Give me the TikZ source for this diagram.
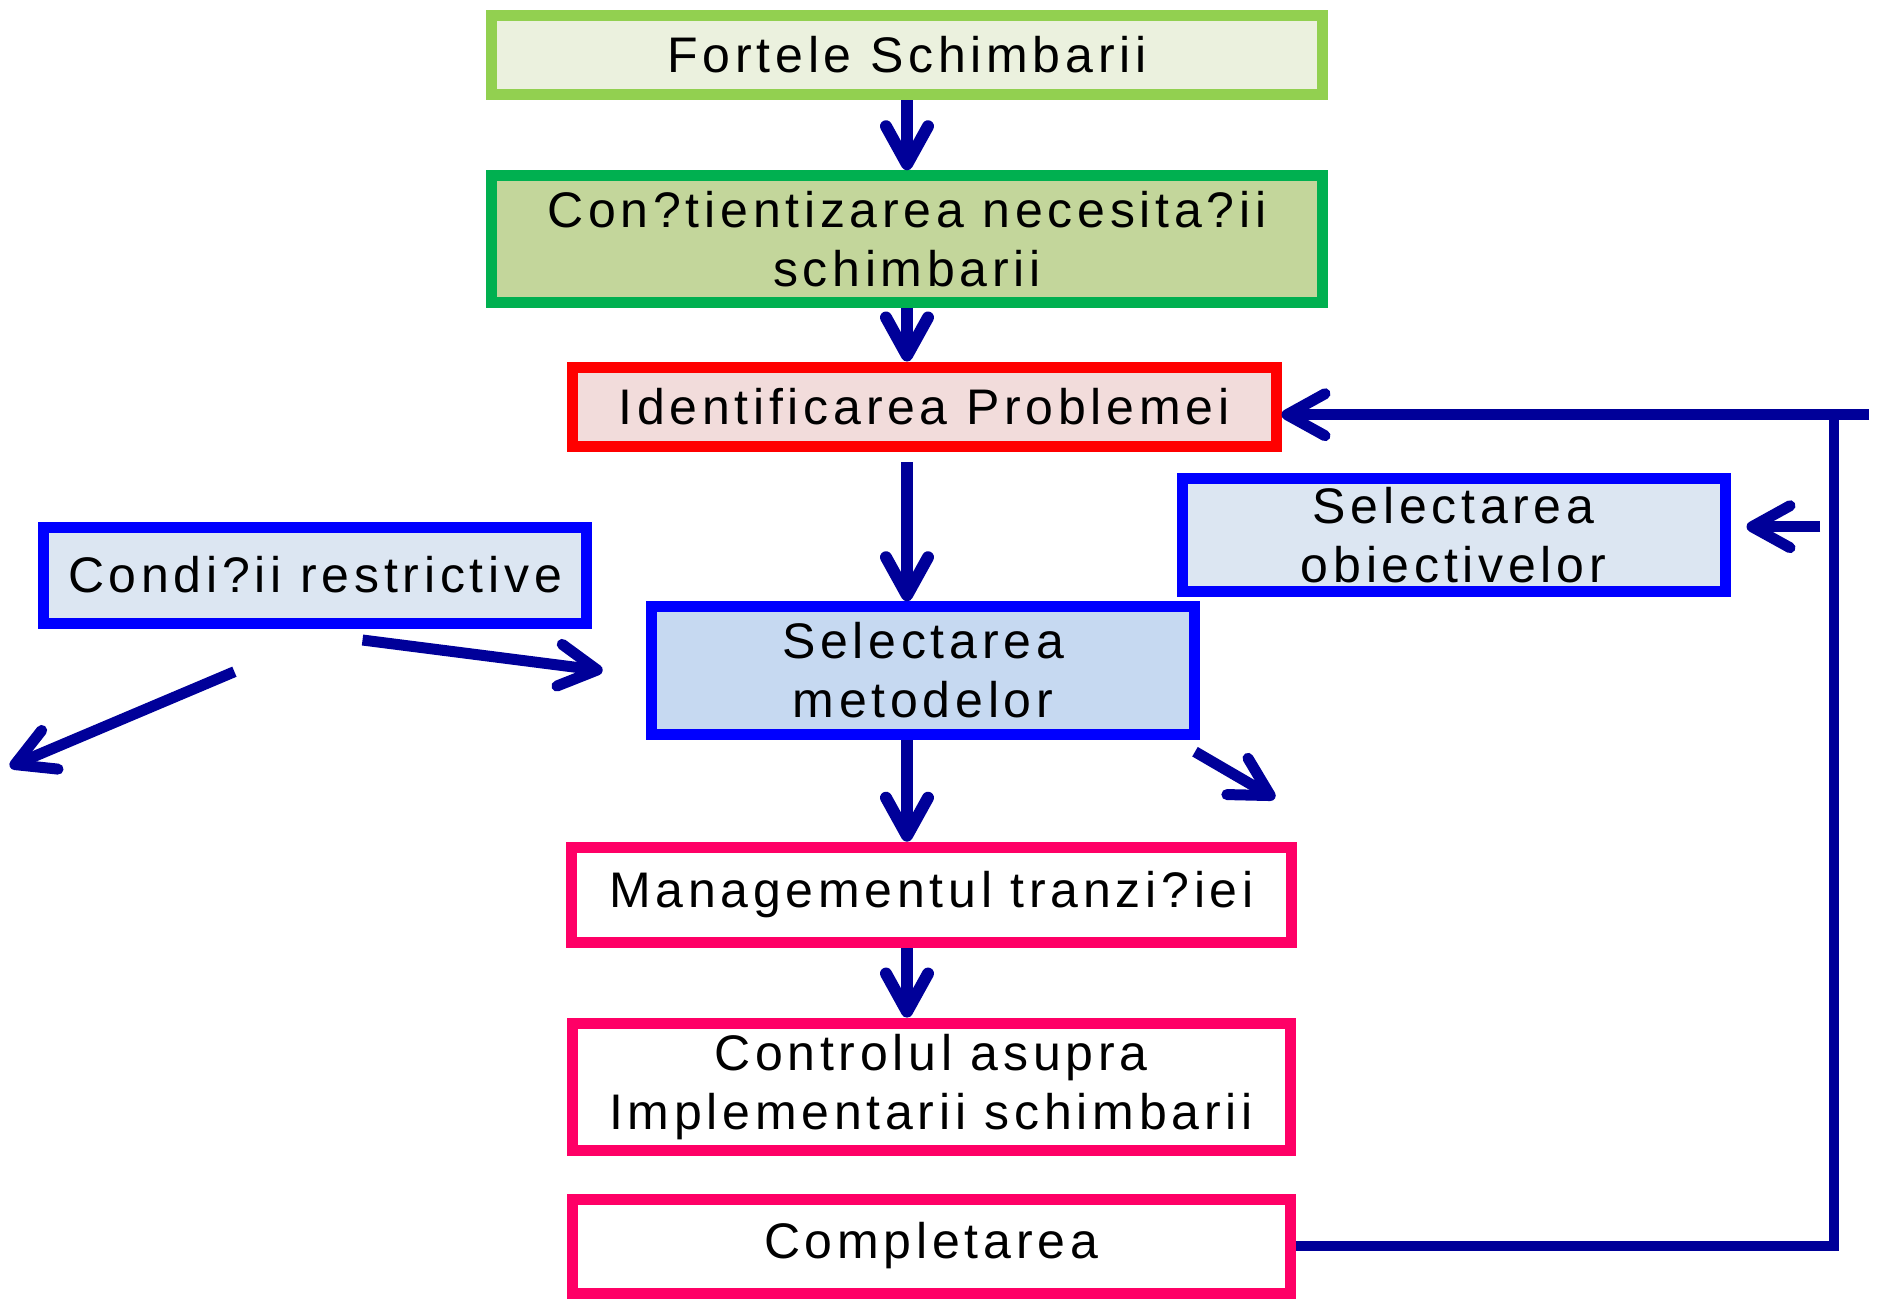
\documentclass[tikz,border=0pt]{standalone}
\usepackage{fontspec}
\setmainfont{Liberation Sans}[LetterSpace=9.5]
\usetikzlibrary{arrows.meta}
\definecolor{arrblue}{HTML}{000099}
\definecolor{lgreen}{HTML}{92D050}
\definecolor{lgreenfill}{HTML}{EBF1DE}
\definecolor{dgreen}{HTML}{00B050}
\definecolor{dgreenfill}{HTML}{C3D69B}
\definecolor{redfill}{HTML}{F2DCDB}
\definecolor{bluefill}{HTML}{DCE6F2}
\definecolor{bluefilltwo}{HTML}{C6D9F1}
\definecolor{pinkb}{HTML}{FF0066}
\begin{document}
\begin{tikzpicture}[x=0.5pt,y=-0.5pt,
  box/.style={draw, line width=5.5pt, inner sep=0pt, align=center,
    font=\fontsize{25}{29.5}\selectfont},
  arr/.style={draw=arrblue, line width=6pt, -{Straight Barb[length=19pt,width=21pt,round]}},
  fb/.style={draw=arrblue, line width=5pt, line join=miter}]
\useasboundingbox (0,0) rectangle (1878,1298);
\node[box, draw=lgreen, fill=lgreenfill, minimum width=415.5pt, minimum height=39.75pt] (n1) at (907,55) {Fortele Schimbarii};
\node[box, draw=dgreen, fill=dgreenfill, minimum width=415.5pt, minimum height=63.25pt] (n2) at (907,239) {Con?tientizarea necesita?ii\\schimbarii};
\node[box, draw=red, fill=redfill, minimum width=352pt, minimum height=39.5pt] (n3) at (924,406.5) {Identificarea Problemei};
\node[box, draw=blue, fill=bluefill, minimum width=271.5pt, minimum height=56.25pt] (n4) at (1453.5,535) {Selectarea\\obiectivelor};
\node[box, draw=blue, fill=bluefill, minimum width=271.5pt, minimum height=48pt] (n5) at (315,575) {Condi?ii restrictive};
\node[box, draw=blue, fill=bluefilltwo, minimum width=271.5pt, minimum height=63.65pt] (n6) at (923,670.4) {Selectarea\\metodelor};
\node[box, draw=pinkb, fill=white, minimum width=359.75pt, minimum height=47.8pt] (n7) at (931.5,895) {Managementul tranzi?iei};
\node[box, draw=pinkb, fill=white, minimum width=359pt, minimum height=63.65pt] (n8) at (931,1086.7) {Controlul asupra\\Implementarii schimbarii};
\node[box, draw=pinkb, fill=white, minimum width=359pt, minimum height=47pt] (n9) at (931,1246) {Completarea};
\coordinate (sp) at (907,0);
\coordinate (a3) at (907,462);
\draw[arr] (n1.south -| sp) -- (n2.north -| sp);
\draw[arr] (n2.south -| sp) -- (n3.north -| sp);
\draw[arr] (a3) -- (n6.north -| sp);
\draw[arr] (n6.south -| sp) -- (n7.north -| sp);
\draw[arr] (n7.south -| sp) -- (n8.north -| sp);
\coordinate (fb1) at (1834,1246);
\coordinate (fb2) at (1834,414.7);
\coordinate (fb3) at (1869,414.7);
\draw[fb] (n9.east) -- (fb1) -- (fb2);
\draw[arr, line width=5.5pt] (fb3) -- (n3.east |- fb3);
\coordinate (g1) at (1820,526.7);
\draw[arr, line width=5.5pt] (g1) -- ([xshift=8pt]n4.east |- g1);
\coordinate (c1s) at (362.5,640);
\coordinate (c1e) at (602.7,670.7);
\coordinate (c2s) at (234.4,671.7);
\coordinate (c2e) at (9.8,766.7);
\coordinate (m1s) at (1195,751.7);
\coordinate (m1e) at (1275,798.3);
\draw[arr, line width=5.5pt] (c1s) -- (c1e);
\draw[arr, line width=5.5pt] (c2s) -- (c2e);
\draw[arr, line width=5.5pt] (m1s) -- (m1e);
\end{tikzpicture}
\end{document}
